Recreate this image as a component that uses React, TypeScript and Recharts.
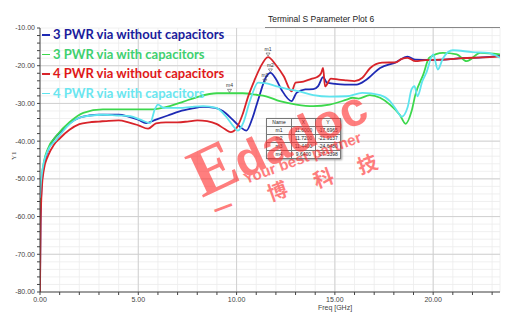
import React from 'react'
import {
  LineChart,
  Line,
  XAxis,
  YAxis,
  CartesianGrid,
  ReferenceLine,
  ReferenceDot,
} from 'recharts'

// 3 PWR via without capacitors
const blueFreq = [0, 0.03, 0.1, 0.2, 0.4, 0.7, 1.0, 1.5, 2.0, 2.5, 3.0, 3.5, 4.0, 4.5, 5.0, 5.4, 5.9, 6.5, 7.1, 7.7, 8.3, 8.9, 9.3, 9.8, 10.2, 10.5, 10.8, 11.1, 11.5, 11.72, 12.0, 12.3, 12.8, 13.05, 13.5, 13.9, 14.15, 14.4, 14.6, 15.0, 15.5, 16.1, 16.6, 17.3, 18.1, 18.7, 19.1, 19.8, 20.5, 21.5, 22.5, 23.4]
const blueDb = [-78, -60, -50.5, -46.5, -42.5, -39.5, -37.8, -35.3, -33.8, -33.2, -33, -33, -33, -33.5, -34.3, -35.2, -34.3, -33.2, -32.1, -31.4, -30.9, -31.2, -32, -34.3, -36.3, -37.2, -34, -29, -23, -21.9, -23.5, -26.5, -29.4, -27.2, -26.3, -26.2, -25.4, -23, -24.5, -24.8, -25, -25, -23.7, -20.6, -19.1, -17.6, -18.4, -18.5, -18.4, -18, -17.8, -17.4]

// 3 PWR via with capacitors
const greenFreq = [0, 0.03, 0.1, 0.2, 0.4, 0.85, 1.5, 2.2, 3.2, 4.0, 4.6, 5.6, 6.6, 7.3, 8.0, 9.0, 9.64, 10.3, 11.0, 11.5, 12.2, 13.04, 13.9, 14.74, 15.6, 15.9, 16.2, 16.77, 17.3, 17.8, 18.3, 18.6, 18.9, 19.1, 19.5, 19.8, 20.5, 21.2, 21.7, 22.4, 23.4]
const greenDb = [-58, -54, -49, -45.5, -42, -38.5, -35, -32.5, -31.6, -31.6, -31.6, -31.6, -30.7, -29.5, -28.3, -27.3, -27.3, -27.3, -27.7, -28.1, -29.4, -30.3, -30.7, -30.3, -29, -28.5, -28.7, -27.8, -28.5, -30.3, -33, -35.4, -32.1, -27.6, -22.3, -17.9, -16.6, -17, -18.8, -16.6, -17]

// 4 PWR via without capacitors
const redFreq = [0, 0.03, 0.1, 0.2, 0.4, 0.7, 1.0, 1.5, 2.0, 2.5, 3.0, 3.5, 4.0, 4.5, 5.0, 5.5, 5.9, 6.4, 7.0, 7.5, 8.0, 8.5, 9.0, 9.4, 9.7, 10.0, 10.3, 10.6, 10.9, 11.2, 11.6, 12.0, 12.4, 12.8, 13.0, 13.4, 13.8, 14.1, 14.3, 14.4, 14.5, 14.8, 15.2, 15.6, 16.0, 16.4, 16.8, 17.4, 18.1, 18.4, 18.7, 19.1, 19.6, 20.5, 21.5, 22.5, 23.4]
const redDb = [-80, -62, -52, -47.5, -44, -41, -39.3, -37, -35.5, -35, -34.8, -34.6, -34.5, -35, -35.8, -36.7, -35.3, -35, -35, -34.8, -34.5, -34.7, -35.5, -36.8, -37.6, -36.5, -33, -28, -24, -20.5, -17.7, -19.8, -22.8, -26.8, -24.5, -24.2, -23.5, -23, -22, -20.6, -25.5, -23.4, -23.7, -23.9, -24.1, -23.2, -20.6, -19.2, -19.1, -18.2, -17.9, -18.8, -18.5, -18.4, -18, -17.8, -17.5]

// 4 PWR via with capacitors
const cyanFreq = [0, 0.03, 0.1, 0.2, 0.4, 0.85, 1.4, 2.0, 2.6, 3.2, 3.9, 4.6, 5.1, 5.6, 5.84, 6.0, 6.3, 7.1, 7.7, 8.3, 8.97, 9.45, 9.8, 10.07, 10.35, 10.67, 11.1, 11.44, 12.0, 12.6, 13.2, 13.9, 14.74, 15.6, 16.4, 17.3, 17.8, 18.1, 18.4, 18.7, 18.9, 19.05, 19.2, 19.45, 19.65, 20.0, 20.24, 20.5, 21.0, 22.0, 22.8, 23.4]
const cyanDb = [-55, -52, -48.5, -45.5, -42.5, -39.5, -36, -33.8, -33.2, -33, -33.2, -33.4, -34.3, -35.2, -31.6, -30.3, -31.2, -31.2, -30.9, -30.7, -31.2, -33.4, -35.8, -37.2, -35, -29.5, -24.5, -24.6, -25.4, -26.2, -26.8, -27.8, -28.2, -28.1, -27.2, -27.8, -29.4, -31.5, -33.5, -31, -26.3, -25.4, -28.1, -24.1, -21.9, -17, -21, -18, -15.9, -16.4, -16.6, -17.9]

const markerNames = ['m1', 'm2', 'm3', 'm4']
const markerX = [11.6, 11.72, 11.44, 9.64]
const markerY = [-17.6965, -21.9137, -24.648, -27.3398]

const xTicks = Array.from({ length: 24 }, (_, i) => i)
const yTicks = Array.from({ length: 36 }, (_, i) => -80 + i * 2)
const xMajor = [5, 10, 15, 20]
const yMajor = [-70, -60, -50, -40, -30, -20]

const toPoints = (xs: number[], ys: number[]) => xs.map((x, i) => ({ x, y: ys[i] }))

const series = [
  { name: '3 PWR via without capacitors', data: toPoints(blueFreq, blueDb), stroke: '#1e2ab4', text: '#1a1c9c' },
  { name: '3 PWR via with capacitors', data: toPoints(greenFreq, greenDb), stroke: '#3cd84c', text: '#3fd070' },
  { name: '4 PWR via without capacitors', data: toPoints(redFreq, redDb), stroke: '#d8242a', text: '#e01818' },
  { name: '4 PWR via with capacitors', data: toPoints(cyanFreq, cyanDb), stroke: '#5ee4ee', text: '#6ae6f0' },
]

const tickStyle = { fontSize: 7, fill: '#444', fontFamily: 'Liberation Sans, Arial' }

function LegendBox() {
  return (
    <div style={{ position: 'absolute', left: 42, top: 25, fontFamily: 'Lato', fontWeight: 700, fontSize: 13 }}>
      {series.map(s => (
        <div key={s.name} style={{ height: 19.5, lineHeight: '19.5px', color: s.text, whiteSpace: 'nowrap', display: 'flex', alignItems: 'center' }}>
          <span style={{ display: 'inline-block', width: 8, height: 1.5, background: s.stroke, marginRight: 3 }} />
          {s.name}
        </div>
      ))}
    </div>
  )
}

function markerShape(label: string) {
  return (p: any) => (
    <g>
      <path d={`M${p.cx - 2},${p.cy - 4} L${p.cx + 2},${p.cy - 4} L${p.cx},${p.cy - 1} Z`} fill="none" stroke="#555" strokeWidth={0.6} />
      <text x={p.cx} y={p.cy - 6} textAnchor="middle" fontSize={5} fill="#333" fontFamily="Liberation Sans, Arial">{label}</text>
    </g>
  )
}

const cell: React.CSSProperties = { border: '0.6px solid #777', padding: 0, textAlign: 'center', height: 7, lineHeight: '7px' }

export default function App() {
  return (
    <div style={{ position: 'absolute', left: 0, top: 0, width: 522, height: 332, background: '#fff' }}>
      <LineChart width={522} height={332} margin={{ top: 28, right: 22, left: 0, bottom: 0 }}>
        <CartesianGrid stroke="#ececec" strokeWidth={0.8} />
        <XAxis
          type="number"
          dataKey="x"
          domain={[0, 23.4]}
          ticks={xTicks}
          interval={0}
          allowDataOverflow
          height={40}
          tickSize={3}
          stroke="#444"
          tick={tickStyle}
          tickFormatter={(v: number) => (v % 5 === 0 ? v.toFixed(2) : '')}
        />
        <YAxis
          type="number"
          dataKey="y"
          domain={[-80, -10]}
          ticks={yTicks}
          interval={0}
          allowDataOverflow
          width={40}
          tickSize={3}
          stroke="#444"
          tick={tickStyle}
          tickFormatter={(v: number) => (v % 10 === 0 ? v.toFixed(2) : '')}
          label={{ value: 'Y1', angle: -90, position: 'insideLeft', offset: 14, fontSize: 7, fill: '#444' }}
        />
        {xMajor.map(v => (
          <ReferenceLine key={'x' + v} x={v} stroke="#cdcdcd" strokeWidth={0.9} />
        ))}
        {yMajor.map(v => (
          <ReferenceLine key={'y' + v} y={v} stroke="#cdcdcd" strokeWidth={0.9} />
        ))}
        {series.map(s => (
          <Line
            key={s.name}
            data={s.data}
            dataKey="y"
            name={s.name}
            type="monotone"
            stroke={s.stroke}
            strokeWidth={1.8}
            dot={false}
            isAnimationActive={false}
          />
        ))}
        {markerNames.map((m, i) => (
          <ReferenceDot key={m} x={markerX[i]} y={markerY[i]} r={2} shape={markerShape(m)} />
        ))}
      </LineChart>

      <LegendBox />

      <table
        style={{
          position: 'absolute', left: 266, top: 118, width: 71, borderCollapse: 'collapse',
          fontSize: 5, fontFamily: 'Liberation Sans, Arial', color: '#222', background: '#fafafa',
          boxShadow: '1px 1px 2px #999', tableLayout: 'fixed',
        }}
      >
        <tbody>
          <tr>
            <td style={{ ...cell, width: 24 }}>Name</td>
            <td style={{ ...cell, width: 23 }}>X</td>
            <td style={{ ...cell, width: 24 }}>Y</td>
          </tr>
          {markerNames.map((m, i) => (
            <tr key={m}>
              <td style={cell}>{m}</td>
              <td style={cell}>{markerX[i].toFixed(4)}</td>
              <td style={cell}>{markerY[i].toFixed(4)}</td>
            </tr>
          ))}
        </tbody>
      </table>

      <svg width={522} height={332} style={{ position: 'absolute', left: 0, top: 0, pointerEvents: 'none' }}>
        <text x={268} y={22} fontSize={8.5} fill="#222" fontFamily="Liberation Sans, Arial">Terminal S Parameter Plot 6</text>
        <line x1={265} y1={27.5} x2={500} y2={27.5} stroke="#888" strokeWidth={1} />
        <text x={335} y={310} fontSize={7} fill="#444" textAnchor="middle" fontFamily="Liberation Sans, Arial">Freq [GHz]</text>
        <g opacity={0.62} fill="#ff3030">
          <g transform="translate(202,198) rotate(-25)">
            <text fontFamily="Liberation Serif" fontWeight={700} fontSize={68}>
              E<tspan fontFamily="Liberation Sans" fontSize={48}>dadoc</tspan>
            </text>
          </g>
          <g transform="translate(246,184) rotate(-20)">
            <text fontFamily="Liberation Sans" fontWeight={700} fontSize={15}>Your best partner</text>
          </g>
          {[['一', 223, 207], ['博', 277, 190], ['科', 323, 177], ['技', 367, 163]].map(([c, x, y]) => (
            <text
              key={c as string}
              x={x as number}
              y={y as number}
              transform={`rotate(-20 ${x} ${y})`}
              textAnchor="middle"
              dominantBaseline="central"
              fontFamily="Noto Sans CJK SC"
              fontWeight={700}
              fontSize={20}
            >
              {c}
            </text>
          ))}
        </g>
      </svg>
    </div>
  )
}
